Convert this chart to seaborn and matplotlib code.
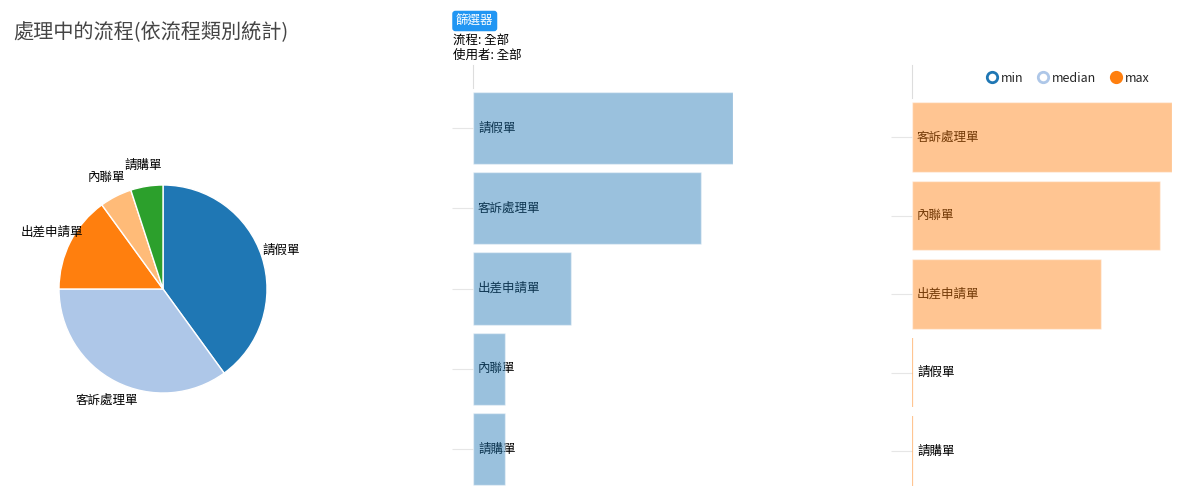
import matplotlib
matplotlib.use("Agg")
import matplotlib.pyplot as plt
import pandas as pd
import seaborn as sns
from matplotlib.lines import Line2D

# pie / count data (processes in progress, by type)
PIE_LABELS = ["請假單", "客訴處理單", "出差申請單", "內聯單", "請購單"]
PIE_COUNTS = [8, 7, 3, 1, 1]
PIE_COLORS = ["#1f77b4", "#aec7e8", "#ff7f0e", "#ffbb78", "#2ca02c"]

# middle bar chart: counts
COUNT_CATS = ["請假單", "客訴處理單", "出差申請單", "內聯單", "請購單"]
COUNT_VALUES = [8, 7, 3, 1, 1]

# right bar chart: max duration
MAX_CATS = ["客訴處理單", "內聯單", "出差申請單", "請假單", "請購單"]
MAX_VALUES = [21, 20, 15.3, 0, 0]

W, H = 1190, 503
BLUE = "#1f77b4"
ORANGE = "#ff7f0e"


def fx(px):
    return px / W


def fy(py):
    return 1 - py / H


def bar_panel(fig, left, right, top, bottom, cats, values, color, xmax,
              first_center, pitch, bar_h):
    ax = fig.add_axes([fx(left), fy(bottom), fx(right - left), (bottom - top) / H])
    df = pd.DataFrame({"cat": cats, "value": values})
    sns.barplot(data=df, y="cat", x="value", order=cats, orient="h",
                color=color, alpha=0.45, width=bar_h, saturation=1,
                linewidth=1.0, ax=ax, zorder=2)
    for p in ax.patches:
        if p.get_width() == 0:
            p.set_edgecolor((1.0, 0.5, 0.05, 0.5))
            p.set_linewidth(1.6)
        else:
            p.set_edgecolor((1, 1, 1, 0.6))
    ax.set_xlim(0, xmax)
    y_top = -(first_center - top) / pitch
    y_bot = (len(cats) - 1) + (bottom - (first_center + pitch * (len(cats) - 1))) / pitch
    ax.set_ylim(y_bot, y_top)
    for i, c in enumerate(cats):
        ax.text(5 / (right - left) * xmax, i, c, ha="left", va="center",
                fontsize=9, color="black", zorder=1)
    ax.set_xlabel("")
    ax.set_ylabel("")
    ax.set_xticks([])
    ax.tick_params(axis="y", length=15, color="#e6e6e6", width=0.8,
                   labelleft=False, left=True)
    for s in ["top", "right", "bottom"]:
        ax.spines[s].set_visible(False)
    ax.spines["left"].set_color("#dddddd")
    ax.spines["left"].set_linewidth(0.8)
    ax.spines["left"].set_bounds(y_top, -bar_h / 2 - 0.05)
    ax.patch.set_alpha(0)
    return ax


def main():
    sns.set_theme(style="white")
    plt.rcParams["font.family"] = ["Noto Sans CJK TC", "DejaVu Sans"]

    fig = plt.figure(figsize=(W / 100, H / 100), dpi=100)

    # title and filter info
    fig.text(fx(13), fy(32), "處理中的流程(依流程類別統計)", fontsize=14.5,
             color="#444444", ha="left", va="center")
    fig.text(fx(456), fy(21), "篩選器", fontsize=9, color="white",
             ha="left", va="center",
             bbox={"boxstyle": "round,pad=0.3,rounding_size=0.25",
                   "facecolor": "#2196f3", "edgecolor": "none"})
    fig.text(fx(453), fy(40), "流程: 全部", fontsize=9, color="black",
             ha="left", va="center")
    fig.text(fx(453), fy(55), "使用者: 全部", fontsize=9, color="black",
             ha="left", va="center")

    # pie
    cx, cy, r = 163, 289, 104
    ax_pie = fig.add_axes([fx(cx - r), fy(cy + r), 2 * r / W, 2 * r / H])
    wedges, texts = ax_pie.pie(
        PIE_COUNTS, labels=PIE_LABELS, colors=PIE_COLORS, startangle=90,
        counterclock=False, labeldistance=1.2,
        wedgeprops={"edgecolor": "white", "linewidth": 1.0},
        textprops={"fontsize": 9, "color": "black"},
    )
    for t in texts:
        t.set_ha("center")
        t.set_va("center")
    ax_pie.set_xlim(-1, 1)
    ax_pie.set_ylim(-1, 1)
    ax_pie.set_aspect("auto")
    ax_pie.axis("off")

    # middle: counts
    bar_panel(fig, 473, 733, 65, 490, COUNT_CATS, COUNT_VALUES, BLUE, 8,
              128, 80.25, 0.9)

    # right: max
    bar_panel(fig, 912, 1172, 65, 490, MAX_CATS, MAX_VALUES, ORANGE, 21,
              137, 78.5, 0.89)

    handles = [
        Line2D([], [], marker="o", linestyle="none", markersize=7.5,
               markerfacecolor="white", markeredgecolor=BLUE, markeredgewidth=2),
        Line2D([], [], marker="o", linestyle="none", markersize=7.5,
               markerfacecolor="white", markeredgecolor="#aec7e8", markeredgewidth=2),
        Line2D([], [], marker="o", linestyle="none", markersize=7.5,
               markerfacecolor=ORANGE, markeredgecolor=ORANGE, markeredgewidth=2),
    ]
    fig.legend(handles, ["min", "median", "max"], ncol=3, frameon=False,
               loc="center right", bbox_to_anchor=(fx(1150), fy(78)),
               fontsize=9, handletextpad=0.35, columnspacing=1.15,
               handlelength=0.8, borderpad=0, borderaxespad=0)

    fig.savefig("out.png", dpi=100)
    plt.close(fig)


if __name__ == "__main__":
    main()
